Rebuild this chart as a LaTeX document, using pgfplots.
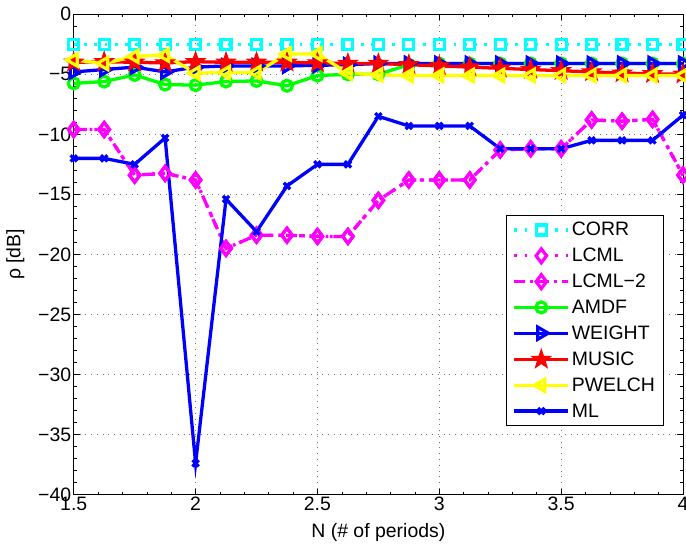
\documentclass[border=0pt]{standalone}
\usepackage{fontspec}
\setmainfont{Liberation Sans}
\usepackage{pgfplots}
\pgfplotsset{compat=1.18}
\usepackage{pgfplotstable}
\usetikzlibrary{calc,plotmarks}

\definecolor{mcyan}{rgb}{0,1,1}
\definecolor{mmag}{rgb}{1,0,1}
\definecolor{mgreen}{rgb}{0,1,0}
\definecolor{mblue}{rgb}{0,0,1}
\definecolor{mred}{rgb}{1,0,0}
\definecolor{myellow}{rgb}{1,1,0}

\pgfdeclareplotmark{pstar}{%
  \pgfpathmoveto{\pgfpointpolar{90}{\pgfplotmarksize}}%
  \pgfpathlineto{\pgfpointpolar{126}{0.40\pgfplotmarksize}}%
  \pgfpathlineto{\pgfpointpolar{162}{\pgfplotmarksize}}%
  \pgfpathlineto{\pgfpointpolar{198}{0.40\pgfplotmarksize}}%
  \pgfpathlineto{\pgfpointpolar{234}{\pgfplotmarksize}}%
  \pgfpathlineto{\pgfpointpolar{270}{0.40\pgfplotmarksize}}%
  \pgfpathlineto{\pgfpointpolar{306}{\pgfplotmarksize}}%
  \pgfpathlineto{\pgfpointpolar{342}{0.40\pgfplotmarksize}}%
  \pgfpathlineto{\pgfpointpolar{18}{\pgfplotmarksize}}%
  \pgfpathlineto{\pgfpointpolar{54}{0.40\pgfplotmarksize}}%
  \pgfpathclose
  \pgfusepathqfillstroke
}

\pgfplotstableread{
x      corr  lcml    lcmltwo amdf   weight music  pwelch ml
1.5    -2.5  -9.6    -9.6    -5.75  -4.8   -4.0   -3.8   -12.0
1.625  -2.5  -9.6    -9.6    -5.6   -4.6   -3.95  -4.1   -12.0
1.75   -2.5  -13.4   -13.4   -5.05  -4.4   -4.0   -3.5   -12.5
1.875  -2.5  -13.25  -13.25  -5.85  -4.8   -4.05  -3.4   -10.3
2.0    -2.5  -13.8   -13.8   -5.9   -4.4   -3.95  -4.9   -37.4
2.125  -2.5  -19.5   -19.5   -5.6   -4.3   -4.0   -4.85  -15.4
2.25   -2.5  -18.4   -18.4   -5.55  -4.3   -4.0   -4.85  -18.1
2.375  -2.5  -18.4   -18.4   -5.95  -4.3   -4.0   -3.3   -14.3
2.5    -2.5  -18.5   -18.5   -5.1   -4.25  -4.05  -3.3   -12.5
2.625  -2.5  -18.5   -18.5   -5.0   -4.2   -4.1   -4.9   -12.5
2.75   -2.5  -15.5   -15.5   -5.0   -4.1   -4.1   -5.05  -8.5
2.875  -2.5  -13.8   -13.8   -4.2   -4.1   -4.2   -5.1   -9.3
3.0    -2.5  -13.8   -13.8   -4.1   -4.1   -4.3   -5.1   -9.3
3.125  -2.5  -13.8   -13.8   -4.1   -4.1   -4.4   -5.1   -9.3
3.25   -2.5  -11.3   -11.3   -4.1   -4.1   -4.5   -5.1   -11.2
3.375  -2.5  -11.2   -11.2   -4.1   -4.1   -4.6   -5.1   -11.2
3.5    -2.5  -11.2   -11.2   -4.1   -4.1   -4.7   -5.1   -11.2
3.625  -2.5  -8.8    -8.8    -4.1   -4.1   -4.8   -5.1   -10.5
3.75   -2.5  -8.9    -8.9    -4.1   -4.1   -4.9   -5.1   -10.5
3.875  -2.5  -8.75   -8.75   -4.1   -4.1   -4.95  -5.1   -10.5
4.0    -2.5  -13.4   -13.4   -4.1   -4.1   -5.0   -5.1   -8.4
}\datatable

\begin{document}
\begin{tikzpicture}
\begin{axis}[
  name=ax,
  scale only axis,
  width=609bp, height=480bp,
  xmin=1.5, xmax=4, ymin=-40, ymax=0,
  xtick={1.5,2,2.5,3,3.5,4},
  xticklabels={1.5,2,2.5,3,3.5,4},
  ytick={-40,-35,-30,-25,-20,-15,-10,-5,0},
  yticklabels={−40,−35,−30,−25,−20,−15,−10,−5,0},
  minor x tick num=4,
  minor y tick num=4,
  tick align=inside,
  major tick length=6bp,
  minor tick length=3bp,
  xtick pos=both, ytick pos=both,
  grid=major,
  major grid style={black!55, line width=0.6pt, dash pattern=on 0.8pt off 5pt},
  axis line style={black, line width=0.8pt},
  tick style={black, line width=0.6pt},
  ticklabel style={font=\fontsize{19.5}{22}\selectfont},
  xticklabel style={yshift=1bp},
  yticklabel style={xshift=1bp},
  label style={font=\fontsize{19.5}{22}\selectfont},
  xlabel={N (\# of periods)},
  ylabel={ρ [dB]},
  xlabel style={yshift=-6bp},
  ylabel style={yshift=7bp},
  clip=false,
  legend style={at={(rel axis cs:0.71,0.582)}, anchor=north west,
    draw=black, line width=0.8pt, fill=white,
    font=\fontsize{19.5}{22}\selectfont,
    row sep=6.8bp, inner xsep=6bp, inner ysep=5bp},
  legend cell align=left,
  legend image code/.code={%
    \draw[mark repeat=2,mark phase=2,#1] plot coordinates {(0cm,0cm) (0.95cm,0cm) (1.9cm,0cm)};},
]
\addplot[mcyan, line width=3.3pt, dash pattern=on 2.8pt off 7.5pt, mark=square, mark size=5pt, mark options={solid, line width=3.2pt}] table[x=x,y=corr] {\datatable};
\addlegendentry{CORR}
\addplot[mmag, line width=3.3pt, dash pattern=on 2.8pt off 7.5pt, mark=diamond, mark size=7pt, mark options={solid, line width=3.2pt}] table[x=x,y=lcml] {\datatable};
\addlegendentry{LCML}
\addplot[mmag, line width=3.3pt, dash pattern=on 11pt off 5pt on 2.8pt off 5pt, mark=diamond, mark size=7pt, mark options={solid, line width=3.2pt}] table[x=x,y=lcmltwo] {\datatable};
\addlegendentry{LCML−2}
\addplot[mgreen, line width=3.3pt, mark=o, mark size=5.5pt, mark options={solid, line width=3.2pt}] table[x=x,y=amdf] {\datatable};
\addlegendentry{AMDF}
\addplot[mblue, line width=3.3pt, mark=triangle, mark size=7pt, mark options={solid, rotate=-90, line width=3.2pt}] table[x=x,y=weight] {\datatable};
\addlegendentry{WEIGHT}
\addplot[mred, line width=3.3pt, mark=pstar, mark size=10pt, mark options={solid, fill=mred, line width=1pt}] table[x=x,y=music] {\datatable};
\addlegendentry{MUSIC}
\addplot[myellow, line width=3.3pt, mark=triangle, mark size=7pt, mark options={solid, rotate=90, line width=3.2pt}] table[x=x,y=pwelch] {\datatable};
\addlegendentry{PWELCH}
\addplot[mblue, line width=3.3pt, mark=x, mark size=4.5pt, mark options={solid, line width=3.2pt}] table[x=x,y=ml] {\datatable};
\addlegendentry{ML}
\end{axis}
\pgfresetboundingbox
\path[use as bounding box] ($(ax.south west)+(-73.7bp,-49.7bp)$) rectangle ($(ax.north east)+(3bp,14.3bp)$);
\end{tikzpicture}
\end{document}
